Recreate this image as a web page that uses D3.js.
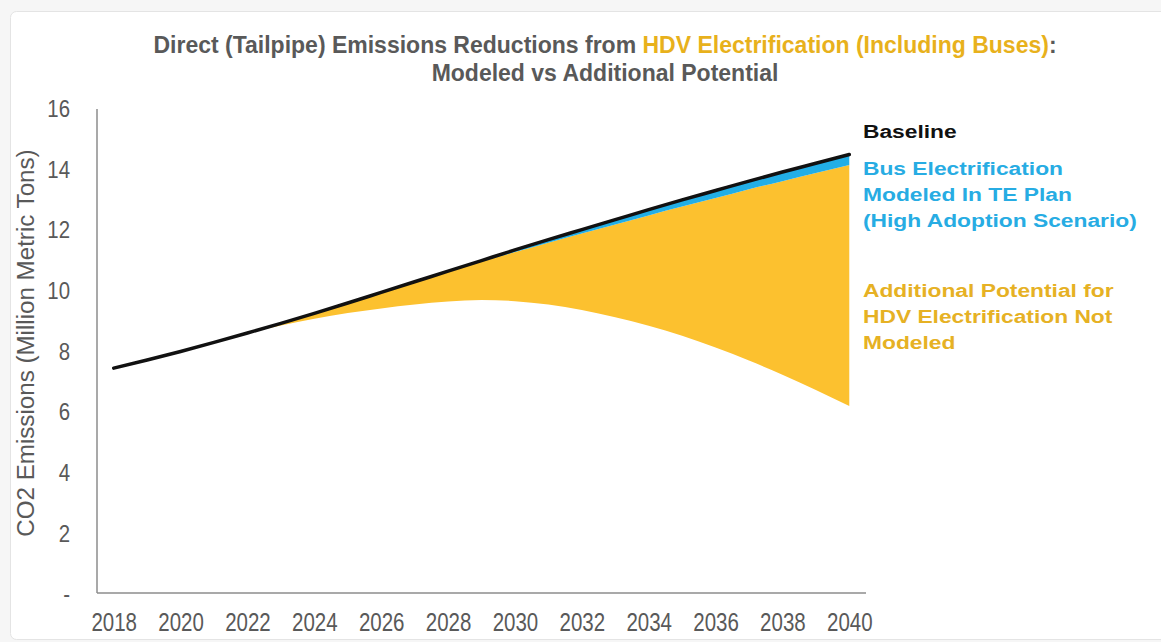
<!DOCTYPE html>
<html>
<head>
<meta charset="utf-8">
<script src="https://cdn.jsdelivr.net/npm/d3@7/dist/d3.min.js"></script>
<style>
  html, body { margin: 0; padding: 0; background: #f6f6f6; }
  svg { display: block; }
</style>
</head>
<body>
<svg id="chart" width="1161" height="642"></svg>
<script>
// ---------------- data ----------------
const years = [2018, 2019, 2020, 2021, 2022, 2023, 2024, 2025, 2026, 2027, 2028,
               2029, 2030, 2031, 2032, 2033, 2034, 2035, 2036, 2037, 2038, 2039, 2040];
const baseline = [7.45, 7.72, 8.0, 8.3, 8.61, 8.93, 9.26, 9.6, 9.95, 10.3, 10.65,
                  11.0, 11.35, 11.69, 12.02, 12.35, 12.68, 13.0, 13.31, 13.62, 13.92, 14.21, 14.5];
const busModeled = [7.45, 7.72, 8.0, 8.3, 8.61, 8.93, 9.26, 9.6, 9.95, 10.3, 10.63,
                    10.96, 11.28, 11.59, 11.89, 12.19, 12.49, 12.78, 13.06, 13.35, 13.62, 13.89, 14.15];
const additionalPotential = [7.45, 7.72, 8.0, 8.3, 8.61, 8.86, 9.08, 9.27, 9.42, 9.55, 9.65,
                             9.7, 9.66, 9.55, 9.37, 9.13, 8.85, 8.52, 8.13, 7.7, 7.23, 6.73, 6.2];
const xTickLabels = [2018, 2020, 2022, 2024, 2026, 2028, 2030, 2032, 2034, 2036, 2038, 2040];
const yTickValues = [0, 2, 4, 6, 8, 10, 12, 14, 16];
const titleLine1 = ["Direct (Tailpipe) Emissions Reductions from ", "HDV Electrification (Including Buses)", ":"];
const titleLine2 = "Modeled vs Additional Potential";
const yAxisTitle = "CO2 Emissions (Million Metric Tons)";
const legendBaseline = ["Baseline"];
const legendBus = ["Bus Electrification", "Modeled In TE Plan", "(High Adoption Scenario)"];
const legendAdd = ["Additional Potential for", "HDV Electrification Not", "Modeled"];

// ---------------- styles ----------------
const C = {
  yellow: "#fcc12f",
  blue: "#22aee6",
  black: "#111111",
  grayText: "#595959",
  gold: "#e8b11c",
  legendBlue: "#27ace3",
  legendGold: "#e6b124",
  axis: "#8c8c8c"
};
const FONT = "'Liberation Sans', Arial, Helvetica, sans-serif";

const svg = d3.select("#chart");

// card background
svg.append("rect")
  .attr("x", 10.5).attr("y", 11.5).attr("width", 1160).attr("height", 628)
  .attr("rx", 6).attr("fill", "#ffffff").attr("stroke", "#e4e4e4");

// scales
const x = d3.scalePoint().domain(years).range([97, 866]).padding(0.5);
const y = d3.scaleLinear().domain([0, 16]).range([594, 109]);

// areas
const blueArea = d3.area()
  .x((d, i) => x(years[i]))
  .y0((d, i) => y(busModeled[i]))
  .y1((d, i) => y(baseline[i]))
  .curve(d3.curveMonotoneX);
const yellowArea = d3.area()
  .x((d, i) => x(years[i]))
  .y0((d, i) => y(additionalPotential[i]))
  .y1((d, i) => y(busModeled[i]))
  .curve(d3.curveMonotoneX);
const baseLine = d3.line()
  .x((d, i) => x(years[i]))
  .y((d, i) => y(baseline[i]))
  .curve(d3.curveMonotoneX);

svg.append("path").datum(years).attr("d", yellowArea).attr("fill", C.yellow);
svg.append("path").datum(years).attr("d", blueArea).attr("fill", C.blue);
svg.append("path").datum(years).attr("d", baseLine)
  .attr("fill", "none").attr("stroke", C.black).attr("stroke-width", 3.5)
  .attr("stroke-linecap", "round");

// axes
const xAxis = d3.axisBottom(x).tickValues(xTickLabels).tickSize(0).tickPadding(20);
const gx = svg.append("g").attr("transform", `translate(0,${y(0) - 1})`).call(xAxis);
gx.select(".domain").attr("stroke", C.axis).attr("stroke-width", 1.5)
  .attr("d", `M${97},0H${866}`);
gx.selectAll("text")
  .attr("font-family", FONT).attr("font-size", 25).attr("fill", C.grayText)
  .attr("transform", "scale(0.82,1)");

const yAxis = d3.axisLeft(y).tickValues(yTickValues).tickSize(0).tickPadding(0)
  .tickFormat(d => d === 0 ? "-" : d);
const gy = svg.append("g").attr("transform", "translate(97,0)").call(yAxis);
gy.select(".domain").attr("stroke", C.axis).attr("stroke-width", 1.5)
  .attr("d", `M0,${y(16)}V${y(0) - 1}`);
gy.selectAll("text")
  .attr("font-family", FONT).attr("font-size", 24).attr("fill", C.grayText)
  .attr("x", -27 / 0.85)
  .attr("transform", "scale(0.85,1)");

// y axis title
svg.append("text")
  .attr("transform", "translate(34,343) rotate(-90) scale(1.05,1)")
  .attr("text-anchor", "middle")
  .attr("font-family", FONT).attr("font-size", 23).attr("fill", C.grayText)
  .text(yAxisTitle);

// title
const tg = svg.append("g").attr("transform", "translate(605,0)");
const t1 = tg.append("text").attr("x", 0).attr("y", 53).attr("text-anchor", "middle")
  .attr("font-family", FONT).attr("font-weight", "bold").attr("font-size", 23)
  .attr("fill", C.grayText);
titleLine1.forEach((s, i) => t1.append("tspan").attr("fill", i === 1 ? C.gold : C.grayText).text(s));
tg.append("text").attr("x", 0).attr("y", 81).attr("text-anchor", "middle")
  .attr("font-family", FONT).attr("font-weight", "bold").attr("font-size", 23)
  .attr("fill", C.grayText).text(titleLine2);

// legend labels
function legendBlock(lines, color, top) {
  const g = svg.append("g").attr("transform", `translate(863,0) scale(1.2,1)`);
  lines.forEach((s, i) => {
    g.append("text").attr("x", 0).attr("y", top + i * 26)
      .attr("font-family", FONT).attr("font-weight", "bold").attr("font-size", 19)
      .attr("fill", color).text(s);
  });
}
legendBlock(legendBaseline, C.black, 138);
legendBlock(legendBus, C.legendBlue, 175);
legendBlock(legendAdd, C.legendGold, 297);
</script>
</body>
</html>
